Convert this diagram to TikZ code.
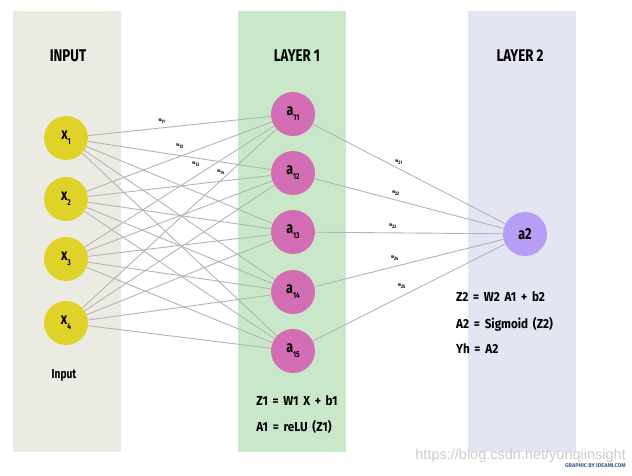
\documentclass[tikz,border=0pt]{standalone}
\usepackage{fontspec}
\setmainfont{Fira Sans}
\newfontfamily\condfont[FakeStretch=0.78]{Fira Sans}
\newfontfamily\formfont[FakeStretch=0.9, WordSpace=1.7]{Fira Sans}
\newfontfamily\webfont{Liberation Sans}

\definecolor{inputbg}{HTML}{EBEBE3}
\definecolor{layeronebg}{HTML}{C9E8CA}
\definecolor{layertwobg}{HTML}{E4E5F3}
\definecolor{inyellow}{HTML}{DFD32A}
\definecolor{hidpink}{HTML}{D36EB5}
\definecolor{outpurple}{HTML}{B79DF3}
\definecolor{linkgray}{HTML}{B4B4B4}
\definecolor{creditblue}{HTML}{3E5F8E}

\newcommand{\lowsub}[1]{\raisebox{-0.32em}{\fontsize{8.5}{8.5}\selectfont #1}}

\tikzset{
  neuron/.style={circle, minimum size=44pt, inner sep=0pt,
    font=\condfont\bfseries\fontsize{16}{16}\selectfont},
  inputnode/.style={neuron, fill=inyellow},
  hiddennode/.style={neuron, fill=hidpink},
  outnode/.style={neuron, fill=outpurple},
  link/.style={draw=linkgray, line width=0.9pt},
  weight/.style={inner sep=0pt, font=\condfont\bfseries\fontsize{5}{5}\selectfont},
  title/.style={font=\condfont\bfseries\fontsize{17}{17}\selectfont},
  label/.style={inner sep=0pt, font=\condfont\bfseries\fontsize{13}{13}\selectfont},
  formula/.style={inner sep=0pt, font=\formfont\bfseries\fontsize{13}{13}\selectfont}
}

\begin{document}
\begin{tikzpicture}[x=1pt, y=-1pt]
    \useasboundingbox[fill=white] (0, 0) rectangle (632, 476);

    % Draw the three column backgrounds
    \fill[inputbg] (13, 11) rectangle (121, 452);
    \fill[layeronebg] (238, 11) rectangle (346, 452);
    \fill[layertwobg] (468, 11) rectangle (576, 452);

    \node[title] (inTitle) at (68, 56) {INPUT};
    \node[title] (oneTitle) at (297, 56) {LAYER 1};
    \node[title] (twoTitle) at (520, 56) {LAYER 2};

    % Draw the input nodes
    \node[inputnode] (x1) at (66, 138) {x\lowsub{1}};
    \node[inputnode] (x2) at (66, 199) {x\lowsub{2}};
    \node[inputnode] (x3) at (66, 259) {x\lowsub{3}};
    \node[inputnode] (x4) at (66, 323) {x\lowsub{4}};
    \node[label] (inLabel) at (64, 375) {Input};

    % Draw the first layer nodes
    \node[hiddennode] (a11) at (293, 114) {a\lowsub{11}};
    \node[hiddennode] (a12) at (293, 173) {a\lowsub{12}};
    \node[hiddennode] (a13) at (293, 232) {a\lowsub{13}};
    \node[hiddennode] (a14) at (293, 292) {a\lowsub{14}};
    \node[hiddennode] (a15) at (293, 351) {a\lowsub{15}};

    % Draw the output node
    \node[outnode] (a2) at (525, 234) {a2};

    % Connect input to first layer
    \draw[link] (x1) -- (a11);
    \draw[link] (x1) -- (a12);
    \draw[link] (x1) -- (a13);
    \draw[link] (x1) -- (a14);
    \draw[link] (x1) -- (a15);

    \draw[link] (x2) -- (a11);
    \draw[link] (x2) -- (a12);
    \draw[link] (x2) -- (a13);
    \draw[link] (x2) -- (a14);
    \draw[link] (x2) -- (a15);

    \draw[link] (x3) -- (a11);
    \draw[link] (x3) -- (a12);
    \draw[link] (x3) -- (a13);
    \draw[link] (x3) -- (a14);
    \draw[link] (x3) -- (a15);

    \draw[link] (x4) -- (a11);
    \draw[link] (x4) -- (a12);
    \draw[link] (x4) -- (a13);
    \draw[link] (x4) -- (a14);
    \draw[link] (x4) -- (a15);

    % Connect first layer to output
    \draw[link] (a11) -- (a2);
    \draw[link] (a12) -- (a2);
    \draw[link] (a13) -- (a2);
    \draw[link] (a14) -- (a2);
    \draw[link] (a15) -- (a2);

    % Weight labels
    \node[weight] (w11) at (162, 121) {w\textsubscript{11}};
    \node[weight] (w12) at (180, 146) {w\textsubscript{12}};
    \node[weight] (w13) at (196, 164) {w\textsubscript{13}};
    \node[weight] (w14) at (221, 172) {w\textsubscript{14}};

    \node[weight] (w21) at (399, 162) {w\textsubscript{21}};
    \node[weight] (w22) at (396, 193) {w\textsubscript{22}};
    \node[weight] (w23) at (393, 226) {w\textsubscript{23}};
    \node[weight] (w24) at (395, 258) {w\textsubscript{24}};
    \node[weight] (w25) at (402, 286) {w\textsubscript{25}};

    % Formulas
    \node[formula] (zOne) at (297, 401) {Z1 = W1 X + b1};
    \node[formula] (aOne) at (294, 427) {A1 = reLU (Z1)};

    \node[formula, anchor=west] (zTwo) at (456, 297) {Z2 = W2 A1 + b2};
    \node[formula, anchor=west] (aTwo) at (456, 324) {A2 = Sigmoid (Z2)};
    \node[formula, anchor=west] (yHat) at (456, 349) {Yh = A2};

    % Credits
    \node[inner sep=0pt, anchor=east, text=black!20, font=\webfont\fontsize{14.5}{14.5}\selectfont] (webMark) at (626, 456) {https://blog.csdn.net/yunqiinsight};
    \node[inner sep=0pt, anchor=east, text=creditblue, font=\bfseries\fontsize{5.5}{5.5}\selectfont] (credit) at (626, 466) {GRAPHIC BY IDEAMI.COM};
\end{tikzpicture}
\end{document}
